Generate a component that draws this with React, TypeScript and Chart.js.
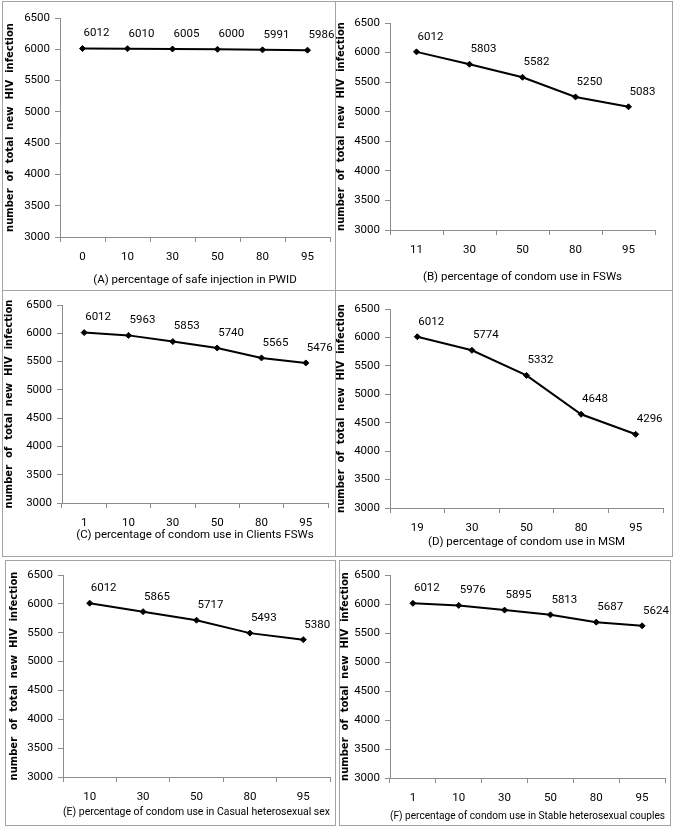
import React, { useEffect, useRef } from 'react';
import { Chart, registerables } from 'chart.js';

Chart.register(...registerables);

// y axis range used by every panel
const Y_MIN = 3000;
const Y_MAX = 6500;
const Y_STEP = 500;

const yTitle = 'number  of  total  new  HIV  infection';

const levelsA = ['0', '10', '30', '50', '80', '95'];
const infectionsA = [6012, 6010, 6005, 6000, 5991, 5986];
const titleA = '(A) percentage of safe injection in PWID';

const levelsB = ['11', '30', '50', '80', '95'];
const infectionsB = [6012, 5803, 5582, 5250, 5083];
const titleB = '(B) percentage of condom use in FSWs';

const levelsC = ['1', '10', '30', '50', '80', '95'];
const infectionsC = [6012, 5963, 5853, 5740, 5565, 5476];
const titleC = '(C) percentage of condom use in Clients FSWs';

const levelsD = ['19', '30', '50', '80', '95'];
const infectionsD = [6012, 5774, 5332, 4648, 4296];
const titleD = '(D) percentage of condom use in MSM';

const levelsE = ['10', '30', '50', '80', '95'];
const infectionsE = [6012, 5865, 5717, 5493, 5380];
const titleE = '(E) percentage of condom use in Casual heterosexual sex';

const levelsF = ['1', '10', '30', '50', '80', '95'];
const infectionsF = [6012, 5976, 5895, 5813, 5687, 5624];
const titleF = '(F) percentage of condom use in Stable heterosexual couples';

const FONT = "Roboto, 'Liberation Sans', sans-serif";
const FONT_SIZE = 11.5;
const AXIS_GREY = '#8c8c8c';

type Box = { left: number; top: number; width: number; height: number };
type Area = { left: number; right: number; top: number; bottom: number };

interface PanelProps {
  labels: string[];
  values: number[];
  title: string;
  box: Box;
  area: Area; // plot area in page coordinates
  yTitleX: number;
  xTitleY: number;
}

// writes the value next to each marker
const pointLabels = {
  id: 'pointLabels',
  afterDatasetsDraw(chart: Chart) {
    const { ctx } = chart;
    const meta = chart.getDatasetMeta(0);
    const values = chart.data.datasets[0].data as number[];
    ctx.save();
    ctx.font = `${FONT_SIZE}px ${FONT}`;
    ctx.fillStyle = '#000';
    ctx.textAlign = 'left';
    ctx.textBaseline = 'middle';
    meta.data.forEach((pt, i) => {
      ctx.fillText(String(values[i]), pt.x + 1, pt.y - 15);
    });
    ctx.restore();
  },
};

const Panel: React.FC<PanelProps> = ({ labels, values, title, box, area, yTitleX, xTitleY }) => {
  const chartRef = useRef<HTMLCanvasElement | null>(null);
  const chartInstanceRef = useRef<Chart | null>(null);

  const ox = box.left + 1;
  const oy = box.top + 1;
  const cw = box.width - 2;
  const ch = box.height - 2;

  useEffect(() => {
    if (!chartRef.current) return;
    const ctx = chartRef.current.getContext('2d');
    if (!ctx) return;

    if (chartInstanceRef.current) {
      chartInstanceRef.current.destroy();
    }

    const yWidth = area.left - ox;
    const xHeight = oy + ch - area.bottom;
    const yTitlePad = Math.max(yTitleX - ox - 5, 0);
    const xTitlePad = oy + ch - xTitleY - FONT_SIZE * 0.6;

    chartInstanceRef.current = new Chart(ctx, {
      type: 'line',
      data: {
        labels,
        datasets: [
          {
            data: values,
            borderColor: '#000',
            backgroundColor: '#000',
            borderWidth: 2,
            tension: 0,
            pointStyle: 'rectRot',
            pointRadius: 3,
            pointBorderWidth: 1,
          },
        ],
      },
      options: {
        animation: false,
        responsive: true,
        maintainAspectRatio: false,
        layout: {
          padding: { left: 0, top: area.top - oy, right: ox + cw - area.right, bottom: 0 },
        },
        plugins: {
          legend: { display: false },
          tooltip: { enabled: false },
        },
        scales: {
          x: {
            type: 'category',
            offset: true,
            afterFit: (scale) => {
              scale.height = xHeight;
            },
            grid: {
              offset: true,
              drawOnChartArea: false,
              drawTicks: true,
              tickLength: 5,
              color: AXIS_GREY,
            },
            border: { display: true, color: AXIS_GREY, width: 1 },
            ticks: {
              color: '#000',
              padding: 8,
              maxRotation: 0,
              font: { family: FONT, size: FONT_SIZE },
            },
            title: {
              display: true,
              text: title,
              color: '#000',
              font: { family: FONT, size: FONT_SIZE },
              padding: { top: 0, bottom: xTitlePad },
            },
          },
          y: {
            min: Y_MIN,
            max: Y_MAX,
            afterFit: (scale) => {
              scale.width = yWidth;
            },
            grid: {
              drawOnChartArea: false,
              drawTicks: true,
              tickLength: 5,
              color: AXIS_GREY,
            },
            border: { display: true, color: AXIS_GREY, width: 1 },
            ticks: {
              stepSize: Y_STEP,
              color: '#000',
              padding: 5,
              font: { family: FONT, size: FONT_SIZE },
              callback: (v) => String(v),
            },
            title: {
              display: true,
              text: yTitle,
              color: '#000',
              font: { family: "'DejaVu Sans', sans-serif", size: 10, weight: 'bold', lineHeight: 1 },
              padding: { top: yTitlePad, bottom: 0 },
            },
          },
        },
      },
      plugins: [pointLabels],
    });

    return () => {
      if (chartInstanceRef.current) {
        chartInstanceRef.current.destroy();
        chartInstanceRef.current = null;
      }
    };
  }, []);

  return (
    <div
      style={{
        position: 'absolute',
        left: box.left,
        top: box.top,
        width: box.width,
        height: box.height,
        border: '1px solid #a3a3a3',
        boxSizing: 'border-box',
      }}
    >
      <div style={{ position: 'relative', width: cw, height: ch }}>
        <canvas ref={chartRef}></canvas>
      </div>
    </div>
  );
};

const App: React.FC = () => {
  return (
    <div style={{ position: 'absolute', left: 0, top: 0, width: 677, height: 830, background: '#fff' }}>
      <Panel
        labels={levelsA}
        values={infectionsA}
        title={titleA}
        box={{ left: 2, top: 1, width: 334, height: 290 }}
        area={{ left: 60, right: 330, top: 18, bottom: 237 }}
        yTitleX={10}
        xTitleY={280}
      />
      <Panel
        labels={levelsB}
        values={infectionsB}
        title={titleB}
        box={{ left: 335, top: 1, width: 338, height: 290 }}
        area={{ left: 390, right: 655, top: 23, bottom: 230 }}
        yTitleX={341}
        xTitleY={277}
      />
      <Panel
        labels={levelsC}
        values={infectionsC}
        title={titleC}
        box={{ left: 2, top: 290, width: 334, height: 267 }}
        area={{ left: 62, right: 328, top: 305, bottom: 503 }}
        yTitleX={9}
        xTitleY={535}
      />
      <Panel
        labels={levelsD}
        values={infectionsD}
        title={titleD}
        box={{ left: 335, top: 290, width: 338, height: 267 }}
        area={{ left: 390, right: 663, top: 309, bottom: 508 }}
        yTitleX={340}
        xTitleY={542}
      />
      <Panel
        labels={levelsE}
        values={infectionsE}
        title={titleE}
        box={{ left: 5, top: 560, width: 331, height: 266 }}
        area={{ left: 63, right: 330, top: 575, bottom: 777 }}
        yTitleX={14}
        xTitleY={812}
      />
      <Panel
        labels={levelsF}
        values={infectionsF}
        title={titleF}
        box={{ left: 339, top: 560, width: 332, height: 266 }}
        area={{ left: 390, right: 665, top: 575, bottom: 778 }}
        yTitleX={345}
        xTitleY={816}
      />
    </div>
  );
};

export default App;
